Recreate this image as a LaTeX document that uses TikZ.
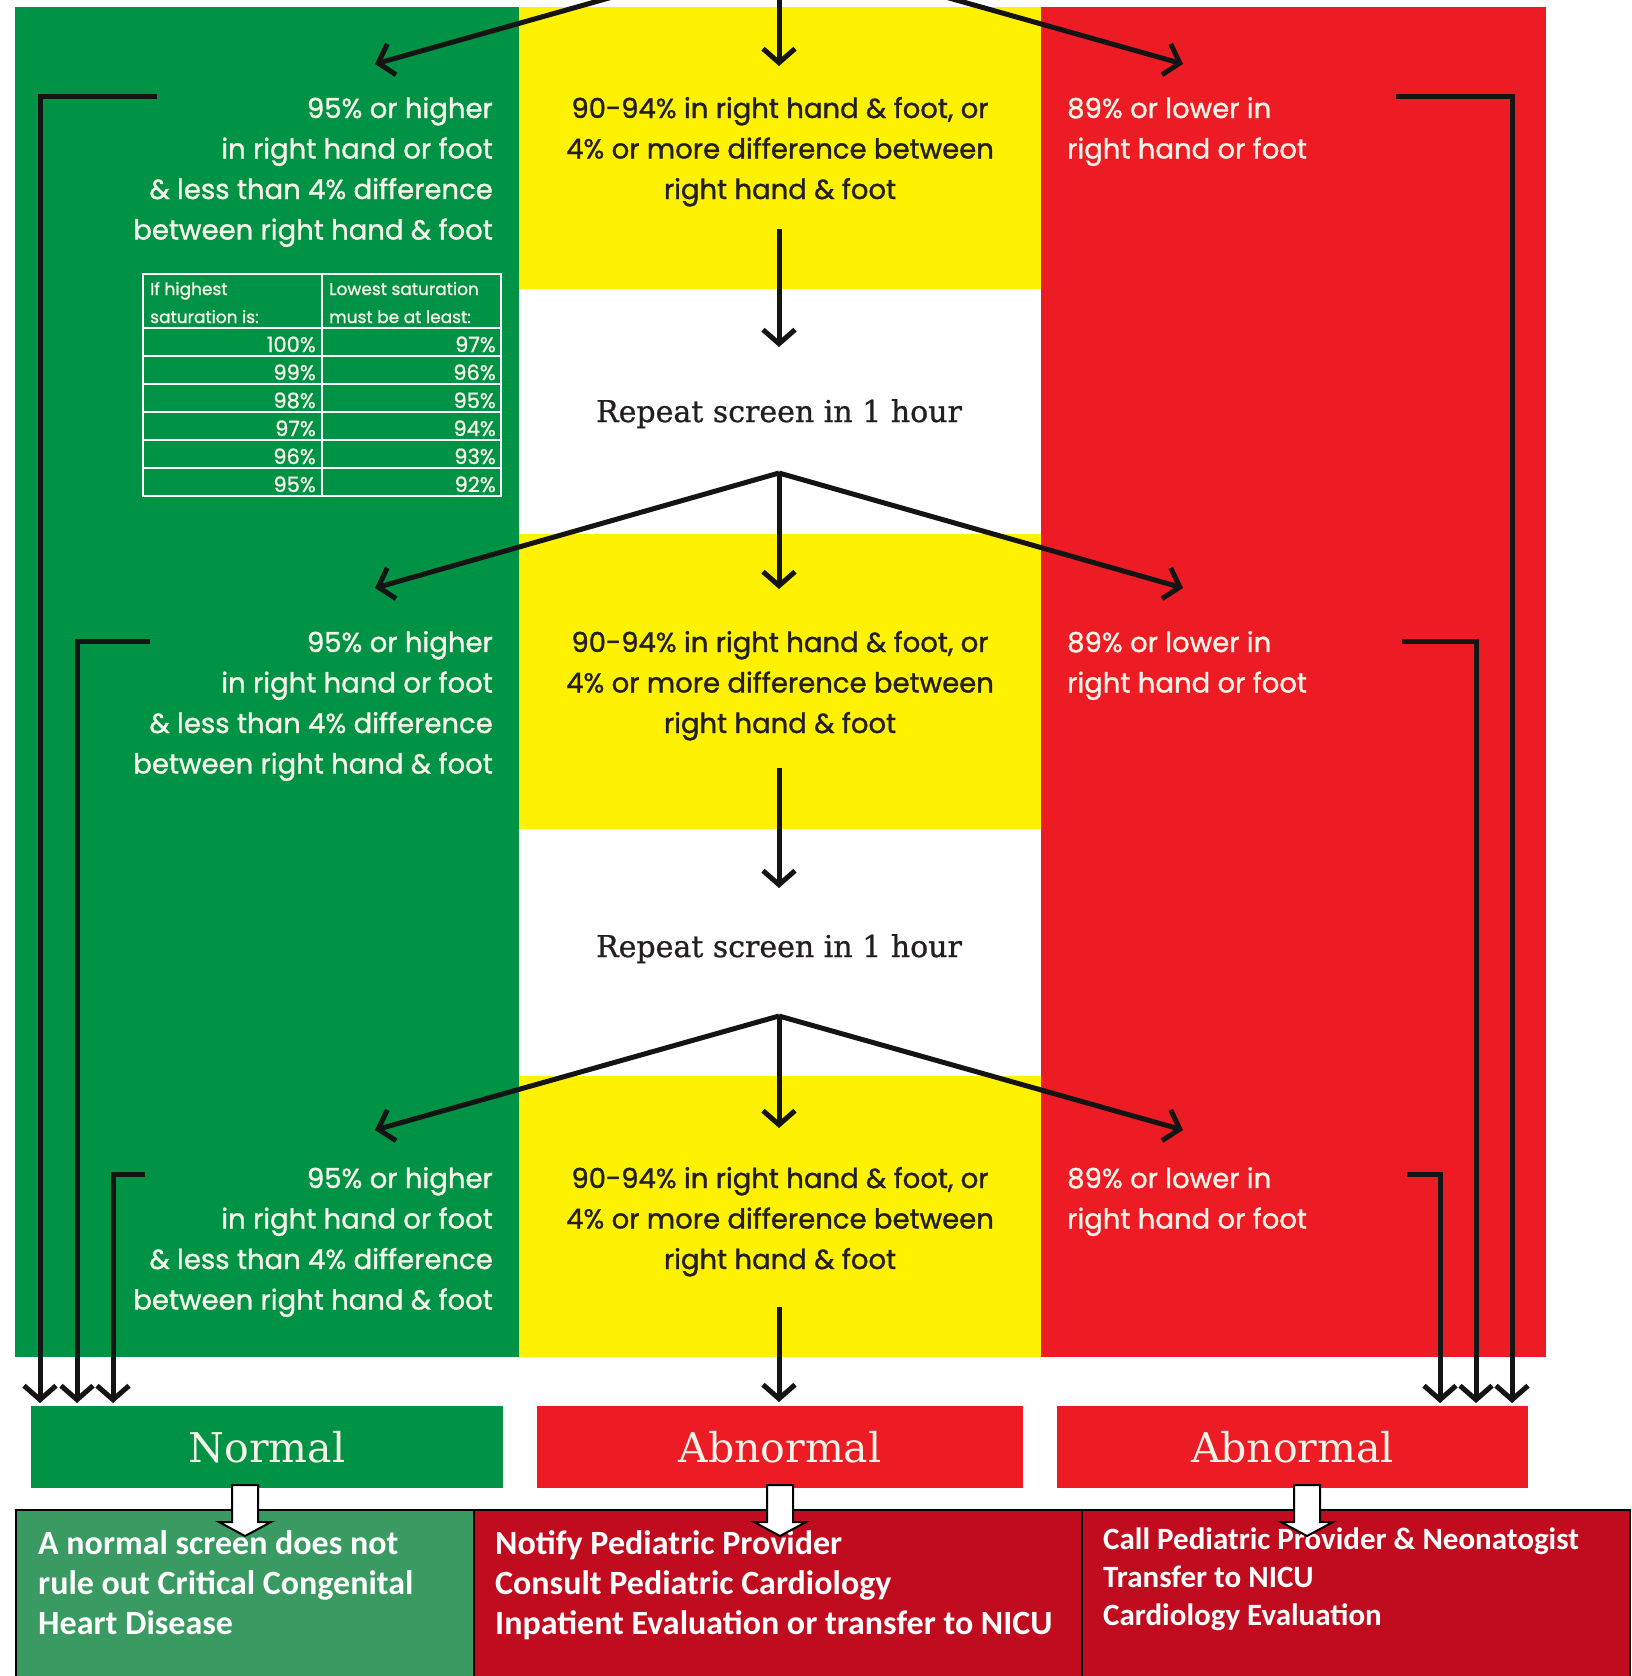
\documentclass[tikz,border=0pt]{standalone}
\usepackage{fontspec}
\setmainfont{Poppins}[RawFeature={embolden=1.2}]
\newfontfamily\slabfont{DejaVu Serif}
\newfontfamily\slabbold{DejaVu Serif}[RawFeature={embolden=0.8}]
\newfontfamily\calfont{Carlito}
\usetikzlibrary{arrows.meta}
\definecolor{cgreen}{RGB}{0,146,69}
\definecolor{cyellow}{RGB}{255,242,0}
\definecolor{cred}{RGB}{237,28,36}
\definecolor{dgreen}{RGB}{58,155,98}
\definecolor{dred}{RGB}{193,12,32}
\definecolor{cream}{RGB}{246,243,232}
\definecolor{ink}{RGB}{35,31,32}
\begin{document}
\begin{tikzpicture}[x=1pt,y=-1pt,
  flow/.style={line width=5pt, draw=black!92, line join=miter,
    -{Straight Barb[length=14pt,width=32pt]}},
  cond/.style={inner sep=0pt, font=\fontsize{27.5}{40}\selectfont},
  gtext/.style={cond, text=cream, anchor=base east},
  ytext/.style={cond, text=ink, anchor=base},
  rtext/.style={cond, text=cream, anchor=base west},
  tcell/.style={inner sep=0pt, text=cream, anchor=base east, font=\fontsize{21}{24}\selectfont},
  thead/.style={inner sep=0pt, text=cream, anchor=base west, font=\fontsize{17}{20}\selectfont},
  repeatlbl/.style={inner sep=0pt, text=ink, anchor=base, font=\slabbold\fontsize{30}{33}\selectfont},
  outbox/.style={inner sep=0pt, minimum height=82pt, text=cream, font=\slabfont\fontsize{41}{44}\selectfont},
  btext/.style={inner sep=0pt, text=white, anchor=base west, font=\calfont\bfseries\fontsize{34}{40}\selectfont},
  btextsm/.style={btext, font=\calfont\bfseries\fontsize{31}{36}\selectfont},
  panel/.style={draw=black, line width=2.5pt},
  blk/.style={fill=white, draw=black, line width=2pt, line join=miter}
]
\useasboundingbox (0,0) rectangle (1632,1676);
\clip (0,0) rectangle (1632,1676);
\fill[white] (0,0) rectangle (1632,1676);
% columns
\fill[cgreen] (15,7) rectangle (519,1357);
\fill[cred] (1041,7) rectangle (1546,1357);
\fill[cyellow] (519,7) rectangle (1041,289);
\fill[cyellow] (519,534) rectangle (1041,829);
\fill[cyellow] (519,1076) rectangle (1041,1357);
% condition texts
\foreach \dy/\r in {0/1,534/2,1070/3}{
  \foreach \t [count=\i from 0] in {95\% or higher, in right hand or foot, {\& less than 4\% difference}, {between right hand \& foot}}
    \node[gtext] (g\r-\i) at (493,118+\dy+40.5*\i) {\t};
  \foreach \t [count=\i from 0] in {{90-94\% in right hand \& foot, or}, {4\% or more difference between}, {right hand \& foot}}
    \node[ytext] (y\r-\i) at (780,118+\dy+40.5*\i) {\t};
  \foreach \t [count=\i from 0] in {89\% or lower in, right hand or foot}
    \node[rtext] (r\r-\i) at (1067,118+\dy+40.5*\i) {\t};
}
% table
\draw[white, line width=2.5pt] (143,274) rectangle (501,496);
\draw[white, line width=2.5pt] (322,274) -- (322,496);
\foreach \yy in {328,356,384,412,440,468}
  \draw[white, line width=2.5pt] (143,\yy) -- (501,\yy);
\node[thead] (th1) at (150,295) {If highest};
\node[thead] (th2) at (150,323) {saturation is:};
\node[thead] (th3) at (329,295) {Lowest saturation};
\node[thead] (th4) at (329,323) {must be at least:};
\foreach \a/\b [count=\k from 0] in {100/97,99/96,98/95,97/94,96/93,95/92}{
  \node[tcell] (ta\k) at (316,352+28*\k) {\a\%};
  \node[tcell] (tb\k) at (496,352+28*\k) {\b\%};
}
% repeat labels
\node[repeatlbl] (rep1) at (779,422) {Repeat screen in 1 hour};
\node[repeatlbl] (rep2) at (779,957) {Repeat screen in 1 hour};
% branching arrows
\coordinate (ap0) at (779,-50);
\coordinate (ap1) at (779,473);
\coordinate (ap2) at (779,1016);
\foreach \n/\yt/\yc in {0/64/66,1/588/589,2/1130/1128}{
  \coordinate (tl\n) at (375,\yt);
  \coordinate (tc\n) at (779,\yc);
  \coordinate (tr\n) at (1183,\yt);
  \draw[flow] (ap\n) -- (tl\n);
  \draw[flow] (ap\n) -- (tc\n);
  \draw[flow] (ap\n) -- (tr\n);
}
% vertical arrows in yellow column
\coordinate (vs1) at (779,229); \coordinate (ve1) at (779,347);
\coordinate (vs2) at (779,768); \coordinate (ve2) at (779,888);
\coordinate (vs3) at (779,1307); \coordinate (ve3) at (779,1402);
\draw[flow] (vs1) -- (ve1);
\draw[flow] (vs2) -- (ve2);
\draw[flow] (vs3) -- (ve3);
% side arrows
\coordinate (sl1) at (157,96);  \coordinate (el1) at (40,1403);
\coordinate (sl2) at (150,641); \coordinate (el2) at (77,1403);
\coordinate (sl3) at (145,1174); \coordinate (el3) at (113,1403);
\coordinate (sr1) at (1396,96);  \coordinate (er1) at (1512,1403);
\coordinate (sr2) at (1402,641); \coordinate (er2) at (1476,1403);
\coordinate (sr3) at (1407,1174); \coordinate (er3) at (1440,1403);
\foreach \n in {1,2,3}{
  \draw[flow] (sl\n) -| (el\n);
  \draw[flow] (sr\n) -| (er\n);
}
% outcome boxes
\node[outbox, fill=cgreen, minimum width=472pt] (normal) at (267,1447) {Normal};
\node[outbox, fill=cred, minimum width=486pt] (abn1) at (780,1447) {Abnormal};
\node[outbox, fill=cred, minimum width=471pt] (abn2) at (1292.5,1447) {Abnormal};
% bottom panels
\fill[dgreen] (16,1510) rectangle (474,1700);
\fill[dred] (474,1510) rectangle (1630,1700);
\draw[panel] (16,1700) -- (16,1510) -- (1630,1510) -- (1630,1700);
\draw[panel] (474,1510) -- (474,1700);
\draw[panel] (1082,1510) -- (1082,1700);
\foreach \t [count=\i from 0] in {A normal screen does not, rule out Critical Congenital, Heart Disease}
  \node[btext] (bl\i) at (38,1554+40*\i) {\t};
\foreach \t [count=\i from 0] in {Notify Pediatric Provider, Consult Pediatric Cardiology, Inpatient Evaluation or transfer to NICU}
  \node[btext] (bm\i) at (495,1554+40*\i) {\t};
\foreach \t [count=\i from 0] in {Call Pediatric Provider \& Neonatogist, Transfer to NICU, Cardiology Evaluation}
  \node[btextsm] (br\i) at (1103,1549+38*\i) {\t};
% white block arrows
\coordinate (wa1) at (245,1485);
\coordinate (wa2) at (780,1485);
\coordinate (wa3) at (1307,1485);
\foreach \n in {1,2,3}
  \draw[blk] (wa\n) ++(-13,0) -- ++(26,0) -- ++(0,37) -- ++(13,0) -- ++(-26,14) -- ++(-26,-14) -- ++(13,0) -- cycle;
\end{tikzpicture}
\end{document}
